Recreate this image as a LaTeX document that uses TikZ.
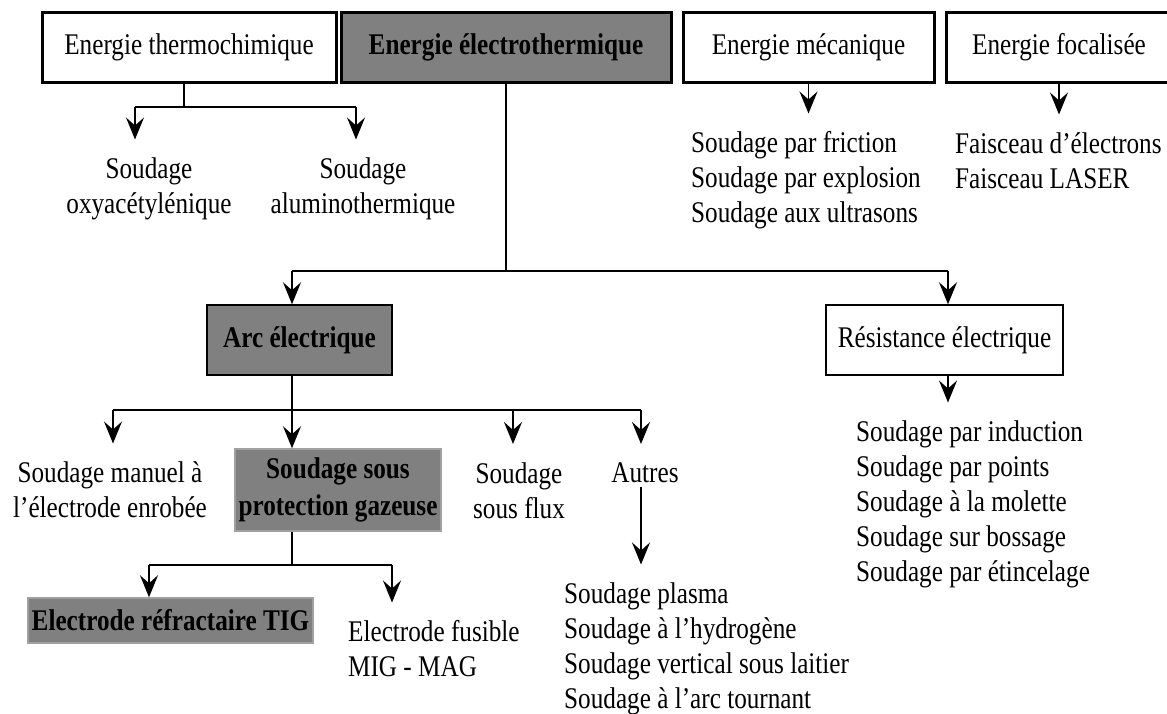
\documentclass[tikz,border=0pt]{standalone}
\usepackage{fontspec}
\setmainfont{Liberation Serif}[FakeStretch=0.84]
\usetikzlibrary{arrows.meta}
\definecolor{boxgray}{RGB}{128,128,128}
\definecolor{edgegray}{RGB}{160,160,160}

\begin{document}
\begin{tikzpicture}[x=1pt,y=1pt,yscale=-1,
    every node/.style={font=\fontsize{30}{35}\selectfont},
    link/.style={line width=1.8pt},
    arr/.style={line width=1.8pt,-{Stealth[length=22pt,width=18pt,inset=8pt]}},
    leafarr/.style={arr,shorten >=14pt},
    topbox/.style={draw,line width=3pt,minimum height=70pt,inner sep=0pt},
    flatbox/.style={draw,line width=1.5pt,minimum height=70pt,inner sep=0pt},
    shadebox/.style={draw=edgegray,line width=1.5pt,fill=boxgray,inner sep=0pt,align=center,font=\fontsize{30}{37}\selectfont\bfseries},
    leaf/.style={inner xsep=0pt,inner ysep=4pt}]
\useasboundingbox (0,0) rectangle (1167,713);

\node[topbox,minimum width=294pt] (thermo) at (189,47) {Energie thermochimique};
\node[topbox,fill=boxgray,minimum width=330pt,font=\fontsize{30}{35}\selectfont\bfseries] (electro) at (506,47) {Energie électrothermique};
\node[topbox,minimum width=251pt] (meca) at (808.5,47) {Energie mécanique};
\node[topbox,minimum width=226pt] (focal) at (1059,47) {Energie focalisée};

\node[leaf,align=center,anchor=north] (oxy) at (149,153.5) {Soudage\\oxyacétylénique};
\node[leaf,align=center,anchor=north] (alu) at (363,153.5) {Soudage\\aluminothermique};
\node[leaf,align=left,anchor=north west] (fric) at (691,127.5) {Soudage par friction\\Soudage par explosion\\Soudage aux ultrasons};
\node[leaf,align=left,anchor=north west] (fais) at (955,128.5) {Faisceau d’électrons\\Faisceau LASER};

\node[flatbox,fill=boxgray,minimum width=185pt,font=\fontsize{30}{35}\selectfont\bfseries] (arc) at (299.5,340) {Arc électrique};
\node[flatbox,minimum width=237pt] (resist) at (944.5,340) {Résistance électrique};

\node[leaf,align=center,anchor=north] (manuel) at (110,457.5) {Soudage manuel à\\l’électrode enrobée};
\node[shadebox,minimum width=206pt,minimum height=82pt] (gaz) at (338,490) {Soudage sous\\protection gazeuse};
\node[leaf,align=center,anchor=north] (flux) at (519,458) {Soudage\\sous flux};
\node[leaf,anchor=north] (autres) at (645,458) {Autres};
\node[leaf,align=left,anchor=north west] (plasma) at (564,578.5) {Soudage plasma\\Soudage à l’hydrogène\\Soudage vertical sous laitier\\Soudage à l’arc tournant};
\node[leaf,align=left,anchor=north west] (induct) at (856,416.5) {Soudage par induction\\Soudage par points\\Soudage à la molette\\Soudage sur bossage\\Soudage par étincelage};

\node[shadebox,minimum width=285pt,minimum height=45pt] (tig) at (170.5,620.5) {Electrode réfractaire TIG};
\node[leaf,align=left,anchor=north west] (fus) at (348,616.5) {Electrode fusible\\MIG - MAG};

\coordinate (jT) at (184,107);
\coordinate (jTl) at (135,107);
\coordinate (jTr) at (356,107);
\draw[link] (thermo.south -| jT) -- (jT);
\draw[link] (jTl) -- (jTr);
\draw[leafarr] (jTl) -- (jTl |- oxy.north);
\draw[leafarr] (jTr) -- (jTr |- alu.north);

\draw[leafarr] (meca.south) -- (meca.south |- fric.north);
\draw[leafarr] (focal.south) -- (focal.south |- fais.north);

\coordinate (jEl) at (292,271);
\coordinate (jEr) at (948,271);
\draw[link] (electro.south) -- (electro.south |- jEl);
\draw[link] (jEl) -- (jEr);
\draw[arr] (jEl) -- (jEl |- arc.north);
\draw[arr] (jEr) -- (jEr |- resist.north);
\draw[leafarr] (jEr |- resist.south) -- (jEr |- induct.north);

\coordinate (jAl) at (113,410);
\coordinate (jAm) at (292,410);
\coordinate (jAs) at (513,410);
\coordinate (jAr) at (641,410);
\draw[link] (jAm |- arc.south) -- (jAm);
\draw[link] (jAl) -- (jAr);
\draw[leafarr] (jAl) -- (jAl |- manuel.north);
\draw[arr] (jAm) -- (jAm |- gaz.north);
\draw[leafarr] (jAs) -- (jAs |- flux.north);
\draw[leafarr] (jAr) -- (jAr |- autres.north);
\draw[leafarr] (jAr |- autres.south) -- (jAr |- plasma.north);

\coordinate (jGl) at (149,565);
\coordinate (jGm) at (292,565);
\coordinate (jGr) at (392,565);
\draw[link] (jGm |- gaz.south) -- (jGm);
\draw[link] (jGl) -- (jGr);
\draw[arr] (jGl) -- (jGl |- tig.north);
\draw[leafarr] (jGr) -- (jGr |- fus.north);
\end{tikzpicture}
\end{document}
